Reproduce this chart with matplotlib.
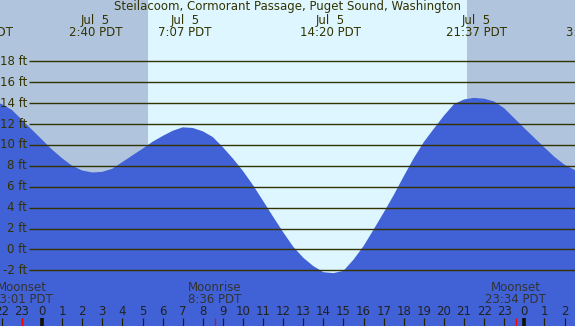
import numpy as np
import matplotlib
matplotlib.use('Agg')
import matplotlib.pyplot as plt

# Tide heights (ft), read every half hour from 22:30 Jul 4 to 03:00 Jul 6
# (hour 0 = midnight Jul 5)
tide_hours = np.arange(-2.5, 27.5, 0.5)
tide_ft = [14.25, 13.9, 13.35, 12.4, 11.45, 10.5, 9.55, 8.72, 8.0, 7.55,
           7.36, 7.42, 7.72, 8.36, 9.0, 9.63, 10.3, 10.85, 11.35, 11.68,
           11.62, 11.3, 10.75, 9.77, 8.69, 7.5, 6.14, 4.64, 3.12, 1.64,
           0.25, -0.8, -1.6, -2.18,
           -2.27, -2.05, -0.98, 0.32, 1.9, 3.52, 5.2, 7.0, 8.74, 10.28,
           11.56, 12.8, 13.9, 14.35, 14.5,
           14.42, 14.15, 13.5, 12.55, 11.6, 10.67, 9.75, 8.85, 8.1, 7.6, 7.3]

# High / low tide labels (hour, date, time); dates of the edge events fall off the chart
event_hours = [-2.98, 2.667, 7.117, 14.333, 21.617, 27.4]
event_dates = ['', 'Jul  5', 'Jul  5', 'Jul  5', 'Jul  5', '']
event_times = ['21:01 PDT', '2:40 PDT', '7:07 PDT', '14:20 PDT', '21:37 PDT', '3:24 PDT']

# Moon events
moon_hours = [-0.983, 8.6, 23.567]
moon_names = ['Moonset', 'Moonrise', 'Moonset']
moon_times = ['23:01 PDT', '8:36 PDT', '23:34 PDT']

sunrise, sunset = 5.27, 21.15
levels = [-2, 0, 2, 4, 6, 8, 10, 12, 14, 16, 18]
hour_ticks = list(range(-2, 27))

title = 'Steilacoom, Cormorant Passage, Puget Sound, Washington'

night = '#B0C4DE'
day = '#DDF6FF'
water = '#4161D6'
ink = '#333300'

fig = plt.figure(figsize=(5.75, 3.26), dpi=100)
ax = fig.add_axes([0, 0, 1, 1])
x0, x1 = -2.092, 26.52
y0, y1 = -7.33, 23.866
ax.set_xlim(x0, x1)
ax.set_ylim(y0, y1)
ax.axis('off')

# day / night background
ax.axvspan(x0, sunrise, color=night, lw=0)
ax.axvspan(sunrise, sunset, color=day, lw=0)
ax.axvspan(sunset, x1, color=night, lw=0)

# tide
ax.fill_between(tide_hours, tide_ft, y0 - 1, color=water, lw=0)

# height lines and labels
for lv in levels:
    ax.hlines(lv, -0.647, x1, color=ink, lw=1.0)
    ax.text(-0.75, lv, f'{lv} ft', ha='right', va='center', fontsize=8.5, color=ink)

# title and event labels
ax.text(12.2, 23.2, title, ha='center', va='center', fontsize=8.5, color=ink)
for h, d, t in zip(event_hours, event_dates, event_times):
    if d:
        ax.text(h, 21.95, d, ha='center', va='center', fontsize=8.5, color=ink)
    ax.text(h, 20.8, t, ha='center', va='center', fontsize=8.5, color=ink)

# hour labels and ticks
tick_top = y0 + 8 / 10.45
for h in hour_ticks:
    ax.text(h, -5.96, str(h % 24), ha='center', va='center', fontsize=8.5, color='#222222')
    if h % 24 == 0:
        ax.vlines(h, y0, tick_top, color='#111100', lw=2.6)
    else:
        ax.vlines(h, y0, tick_top, color='#222200', lw=0.9)

# moon events
for h, n, t in zip(moon_hours, moon_names, moon_times):
    ax.vlines(h, y0, tick_top, color='#FF0000', lw=0.9)
    ax.text(h, -3.6, n, ha='center', va='center', fontsize=8.5, color='#333333')
    ax.text(h, -4.75, t, ha='center', va='center', fontsize=8.5, color='#333333')

fig.savefig('out.png', dpi=100)
